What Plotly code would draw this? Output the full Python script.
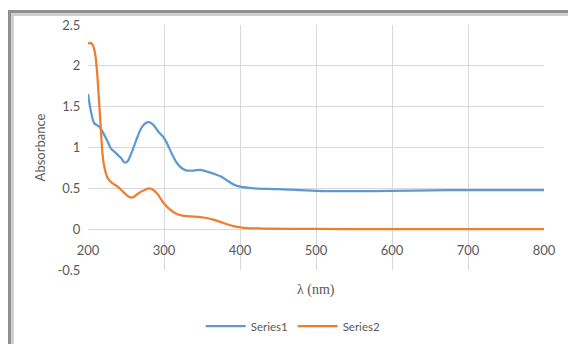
import plotly.graph_objects as go

# Series1 (blue)
wl1 = [200, 203.5, 208, 214.7, 219, 226, 230, 237, 243.5, 248, 252, 257, 263.5, 270, 276, 280.4,
       286, 292.4, 299, 303.5, 310, 317, 323.5, 330, 339, 348, 357, 366, 375, 384, 393, 400,
       418, 450, 500, 550, 600, 650, 700, 750, 800]
abs1 = [1.656, 1.46, 1.30, 1.256, 1.195, 1.07, 0.99, 0.93, 0.87, 0.816, 0.83, 0.93, 1.09, 1.236, 1.30, 1.31,
        1.277, 1.195, 1.13, 1.06, 0.93, 0.81, 0.746, 0.718, 0.718, 0.726, 0.705, 0.677, 0.644, 0.59, 0.54, 0.52,
        0.50, 0.49, 0.47, 0.465, 0.47, 0.475, 0.478, 0.478, 0.478]

# Series2 (orange)
wl2 = [200, 203.5, 206, 208, 210, 212.4, 214.7, 217, 219, 221.3, 226, 232, 239, 246, 252, 257, 261,
       268, 274.7, 280.4, 286, 292.4, 299, 305.8, 314.7, 326, 339, 352, 366, 379, 393, 405, 428,
       500, 600, 700, 800]
abs2 = [2.27, 2.28, 2.26, 2.21, 2.11, 1.87, 1.54, 1.215, 0.93, 0.77, 0.624, 0.563, 0.52, 0.46, 0.408, 0.387, 0.40,
        0.45, 0.48, 0.50, 0.48, 0.42, 0.326, 0.257, 0.196, 0.163, 0.155, 0.143, 0.114, 0.073, 0.033, 0.016, 0.008,
        0.003, 0.0, 0.0, 0.0]

x_ticks = [200, 300, 400, 500, 600, 700, 800]
y_ticks = [-0.5, 0, 0.5, 1, 1.5, 2, 2.5]
y_tick_text = ["-0.5", "0", "0.5", "1", "1.5", "2", "2.5"]

fig = go.Figure()
fig.add_trace(go.Scatter(x=wl1, y=abs1, mode="lines", name="Series1",
                         line=dict(color="#5B9BD5", width=2.25, shape="spline", smoothing=0.8)))
fig.add_trace(go.Scatter(x=wl2, y=abs2, mode="lines", name="Series2",
                         line=dict(color="#ED7D31", width=2.25, shape="spline", smoothing=0.8)))

font_main = "Lato, 'Open Sans', sans-serif"

fig.update_layout(
    width=568, height=344,
    margin=dict(l=88, r=24, t=25, b=74, autoexpand=False),
    paper_bgcolor="white", plot_bgcolor="white",
    font=dict(family=font_main, size=13, color="#595959"),
    showlegend=True,
    legend=dict(orientation="h", x=0.45, xanchor="center", y=-0.17, yanchor="top",
                font=dict(size=11.5, color="#595959"), itemwidth=40, bgcolor="rgba(0,0,0,0)"),
    xaxis=dict(range=[200, 800], tickvals=x_ticks, showgrid=True, gridcolor="#D9D9D9", gridwidth=1,
               zeroline=False, showline=False, ticks="outside", ticklen=9, tickcolor="rgba(0,0,0,0)",
               anchor="free", position=1/6, automargin=False,
               tickfont=dict(size=13, color="#595959")),
    yaxis=dict(range=[-0.5, 2.5], tickvals=y_ticks, ticktext=y_tick_text, showgrid=True,
               gridcolor="#D9D9D9", gridwidth=1, zeroline=False, showline=False,
               ticks="outside", ticklen=4, tickcolor="rgba(0,0,0,0)", automargin=False,
               domain=[0, 1], tickfont=dict(size=13, color="#595959"),
               title=dict(text="Absorbance", font=dict(size=13, color="#595959"), standoff=8)),
    annotations=[
        dict(text="λ (nm)", xref="paper", yref="paper", x=0.5, y=-0.04, xanchor="center", yanchor="top",
             showarrow=False, font=dict(family="'Liberation Serif', serif", size=14, color="#595959")),
        dict(text="loaded drug", xref="paper", yref="paper", x=(345 - 88) / 456, y=1 + 31 / 245,
             xanchor="center", yanchor="bottom", showarrow=False,
             font=dict(family="'Liberation Serif', serif", size=22, color="#111111")),
    ],
    shapes=[
        dict(type="line", xref="paper", yref="paper", x0=-78.5 / 456, x1=-78.5 / 456, y0=1 + 15 / 245, y1=-80 / 245,
             line=dict(color="#8f8f8f", width=3)),
        dict(type="line", xref="paper", yref="paper", x0=-75.5 / 456, x1=-75.5 / 456, y0=1 + 12 / 245, y1=-80 / 245,
             line=dict(color="#cfcfcf", width=3)),
        dict(type="line", xref="paper", yref="paper", x0=-80 / 456, x1=500 / 456, y0=1 + 13.5 / 245, y1=1 + 13.5 / 245,
             line=dict(color="#8f8f8f", width=3)),
        dict(type="line", xref="paper", yref="paper", x0=-77 / 456, x1=500 / 456, y0=1 + 10.5 / 245, y1=1 + 10.5 / 245,
             line=dict(color="#cfcfcf", width=3)),
    ],
)

fig.write_html("out.html")
